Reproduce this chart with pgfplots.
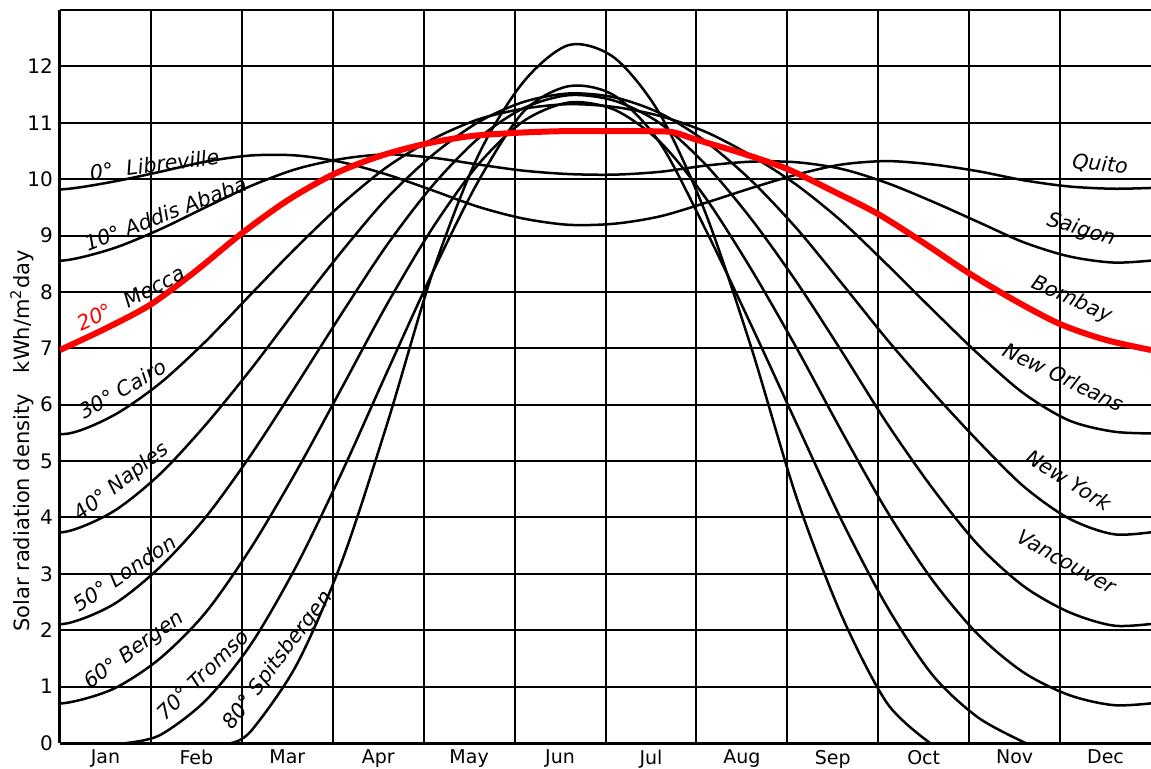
\documentclass[border=0pt]{standalone}
\usepackage{fontspec}
\setmainfont{DejaVu Sans}
\usepackage{pgfplots}
\pgfplotsset{compat=1.18}

% one style for the black latitude curves
\pgfplotsset{lat/.style={black, line width=1.25pt, smooth, no markers}}
\newcommand{\lab}{\itshape\fontsize{10.3}{12}\selectfont}

\begin{document}
\begin{tikzpicture}
\begin{axis}[
    at={(0,0)}, anchor=south west,
    scale only axis, width=545.5pt, height=366.5pt,
    xmin=0, xmax=12, ymin=0, ymax=13,
    axis x line*=bottom, axis y line*=left,
    axis line style={line width=1.5pt},
    xtick={0.5,1.5,...,11.5},
    xticklabels={Jan,Feb,Mar,Apr,May,Jun,Jul,Aug,Sep,Oct,Nov,Dec},
    minor xtick={1,...,11},
    xminorgrids=true,
    ytick={0,...,13},
    yticklabels={0,1,2,3,4,5,6,7,8,9,10,11,12,{}},
    ymajorgrids=true,
    grid style={black, line width=1pt},
    minor grid style={black, line width=1pt},
    major tick length=0pt, minor tick length=0pt,
    xticklabel style={font=\fontsize{9.5}{11}\selectfont},
    yticklabel style={font=\fontsize{10}{12}\selectfont},
    every axis y label/.style={at={(axis description cs:-0.035,0.412)}, rotate=90, anchor=center},
    ylabel={\fontsize{10.5}{12}\selectfont Solar radiation density\quad kWh/m\textsuperscript{2}day},
]

% 0 deg
\addplot[lat] coordinates {
(-0.4,9.79)(0.1,9.83)(0.6,9.96)(1.1,10.13)(1.6,10.31)(2.1,10.42)(2.6,10.42)
(3.1,10.30)(3.6,10.08)(4.1,9.80)(4.6,9.51)(5.1,9.30)(5.6,9.19)(6.1,9.21)
(6.6,9.34)(7.1,9.58)(7.6,9.84)(8.1,10.08)(8.6,10.26)(9.1,10.32)(9.6,10.26)
(10.1,10.14)(10.6,9.98)(11.1,9.87)(11.6,9.83)(12.1,9.85)};

% 10 deg
\addplot[lat] coordinates {
(-0.4,8.52)(0.1,8.57)(0.6,8.78)(1.1,9.11)(1.6,9.50)(2.1,9.88)(2.6,10.18)
(3.1,10.36)(3.6,10.44)(4.1,10.38)(4.6,10.26)(5.1,10.15)(5.6,10.09)(6.1,10.08)
(6.6,10.13)(7.1,10.24)(7.6,10.31)(8.1,10.30)(8.6,10.18)(9.1,9.93)(9.6,9.60)
(10.1,9.24)(10.6,8.88)(11.1,8.63)(11.6,8.52)(12.1,8.57)};

% 30 deg
\addplot[lat] coordinates {
(-0.4,5.52)(0.1,5.49)(0.6,5.82)(1.1,6.38)(1.6,7.12)(2.1,7.96)(2.6,8.79)
(3.1,9.56)(3.6,10.22)(4.1,10.71)(4.6,11.06)(5.1,11.25)(5.6,11.33)(6.1,11.28)
(6.6,11.12)(7.1,10.84)(7.6,10.42)(8.1,9.90)(8.6,9.25)(9.1,8.48)(9.6,7.68)
(10.1,6.90)(10.6,6.20)(11.1,5.72)(11.6,5.52)(12.1,5.49)};

% 40 deg
\addplot[lat] coordinates {
(-0.4,3.70)(0.1,3.76)(0.6,4.12)(1.1,4.77)(1.6,5.64)(2.1,6.63)(2.6,7.69)
(3.1,8.72)(3.6,9.67)(4.1,10.43)(4.6,11.01)(5.1,11.37)(5.6,11.52)(6.1,11.45)
(6.6,11.17)(7.1,10.67)(7.6,9.98)(8.1,9.13)(8.6,8.15)(9.1,7.15)(9.6,6.22)
(10.1,5.35)(10.6,4.55)(11.1,3.98)(11.6,3.70)(12.1,3.76)};

% 50 deg
\addplot[lat] coordinates {
(-0.4,2.08)(0.1,2.13)(0.6,2.47)(1.1,3.12)(1.6,4.00)(2.1,5.11)(2.6,6.35)
(3.1,7.62)(3.6,8.84)(4.1,9.89)(4.6,10.72)(5.1,11.26)(5.6,11.49)(6.1,11.39)
(6.6,10.99)(7.1,10.26)(7.6,9.30)(8.1,8.18)(8.6,6.94)(9.1,5.66)(9.6,4.51)
(10.1,3.51)(10.6,2.78)(11.1,2.32)(11.6,2.08)(12.1,2.13)};

% 60 deg
\addplot[lat] coordinates {
(-0.4,0.67)(0.1,0.72)(0.6,0.97)(1.1,1.50)(1.6,2.31)(2.1,3.46)(2.6,4.82)
(3.1,6.30)(3.6,7.79)(4.1,9.14)(4.6,10.26)(5.1,11.03)(5.6,11.36)(6.1,11.23)
(6.6,10.66)(7.1,9.67)(7.6,8.41)(8.1,7.01)(8.6,5.52)(9.1,4.10)(9.6,2.88)
(10.1,1.92)(10.6,1.25)(11.1,0.85)(11.6,0.67)(12.1,0.72)};

% 70 deg
\addplot[lat] coordinates {
(0.73,0)(1.1,0.14)(1.6,0.75)(2.1,1.75)(2.6,3.14)(3.1,4.80)(3.6,6.59)
(4.1,8.35)(4.6,9.96)(5.1,11.20)(5.6,11.65)(6.1,11.48)(6.6,10.64)(7.1,9.11)
(7.6,7.42)(8.1,5.67)(8.6,3.94)(9.1,2.41)(9.6,1.20)(10.1,0.45)(10.62,0)};

% 80 deg
\addplot[lat] coordinates {
(1.88,0)(2.1,0.21)(2.6,1.38)(3.1,3.22)(3.6,5.67)(4.1,8.35)(4.6,10.42)
(5.1,11.73)(5.6,12.38)(6.1,12.15)(6.6,11.15)(7.1,9.40)(7.6,7.03)(8.1,4.36)
(8.6,2.25)(9.1,0.70)(9.57,0)};

% 20 deg, drawn by hand in red
\addplot[red, line width=3pt, smooth, no markers] coordinates {
(0,6.97)(0.5,7.35)(1,7.78)(1.5,8.38)(2,9.04)(2.5,9.62)(3,10.08)(3.5,10.40)
(4,10.62)(4.5,10.76)(5,10.82)(5.5,10.85)(6,10.85)(6.5,10.85)(6.75,10.83)
(7,10.70)(7.5,10.46)(8,10.18)(8.5,9.79)(9,9.38)(9.5,8.87)(10,8.33)
(10.5,7.85)(11,7.43)(11.5,7.15)(12,6.97)};

% labels on the left
\node[rotate=7, font=\lab] at (axis cs:1.04,10.26) {0°\ \ Libreville};
\node[rotate=21, font=\lab] at (axis cs:1.16,9.39) {10°\ Addis Ababa};
\node[rotate=25, font=\lab, text=red] at (axis cs:0.38,7.56) {20°};
\node[rotate=28, font=\lab] at (axis cs:1.04,8.09) {Mecca};
\node[rotate=30, font=\lab] at (axis cs:0.69,6.28) {30°\ Cairo};
\node[rotate=38, font=\lab] at (axis cs:0.68,4.62) {40°\ Naples};
\node[rotate=34, font=\lab] at (axis cs:0.71,3.02) {50°\ London};
\node[rotate=36, font=\lab] at (axis cs:0.82,1.64) {60°\ Bergen};
\node[rotate=44, font=\lab, inner sep=1pt] at (axis cs:1.57,1.21) {70°\ Tromsø};
\node[rotate=53, font=\lab, inner sep=1pt] at (axis cs:2.40,1.46) {80°\ Spitsbergen};
% labels on the right
\node[rotate=-5, font=\lab] at (axis cs:11.44,10.26) {Quito};
\node[rotate=-17, font=\lab] at (axis cs:11.23,9.10) {Saigon};
\node[rotate=-24, font=\lab] at (axis cs:11.13,7.86) {Bombay};
\node[rotate=-26, font=\lab] at (axis cs:11.04,6.49) {New Orleans};
\node[rotate=-32, font=\lab] at (axis cs:11.10,4.66) {New York};
\node[rotate=-29, font=\lab] at (axis cs:11.07,3.22) {Vancouver};
\end{axis}
\pgfresetboundingbox
\path[use as bounding box] (-30pt,-12.5pt) rectangle (545.5pt,371.5pt);
\end{tikzpicture}
\end{document}
